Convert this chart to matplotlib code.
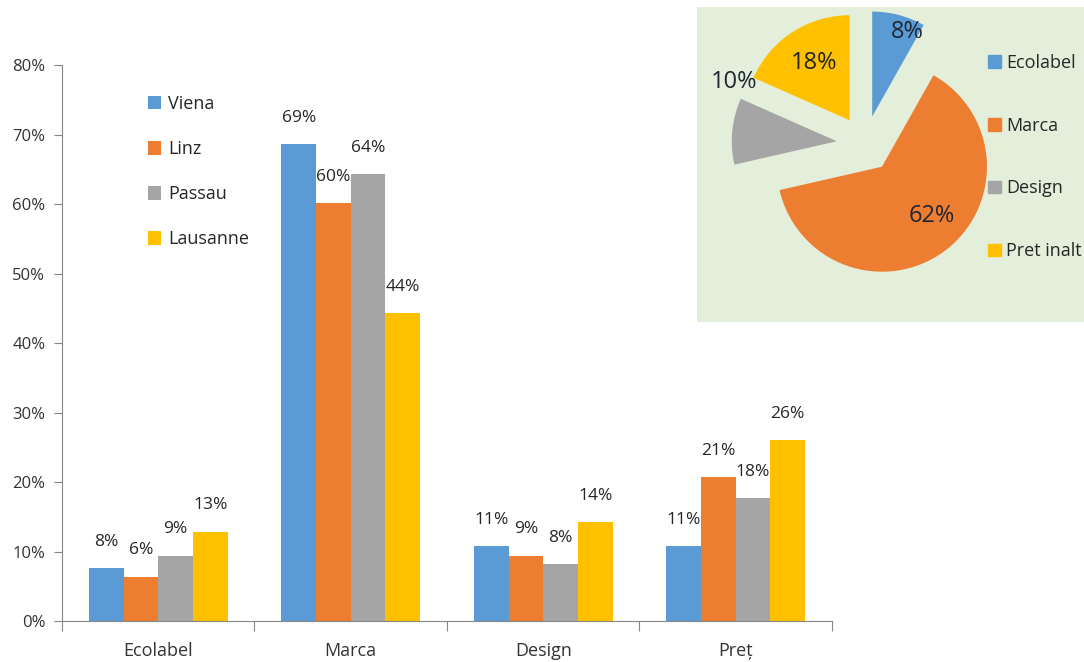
import matplotlib.pyplot as plt
from matplotlib.patches import Patch
import numpy as np

plt.rcParams['font.family'] = ['Open Sans', 'DejaVu Sans']

# bar chart data (percent)
categories = ['Ecolabel', 'Marca', 'Design', 'Preț']
cities = ['Viena', 'Linz', 'Passau', 'Lausanne']
viena = [7.6, 68.6, 10.8, 10.8]
linz = [6.4, 60.1, 9.4, 20.7]
passau = [9.4, 64.3, 8.2, 17.7]
lausanne = [12.85, 44.3, 14.2, 26.0]
yticks = [0, 10, 20, 30, 40, 50, 60, 70, 80]

# pie inset data
pie_labels = ['Ecolabel', 'Marca', 'Design', 'Pret inalt']
pie_values = [8, 62, 10, 18]

colors = ['#5B9BD5', '#ED7D31', '#A5A5A5', '#FFC000']
axis_grey = '#868686'
text_col = '#333333'

fig = plt.figure(figsize=(10.84, 6.62), dpi=100)

# ---- grouped bars ----
ax = fig.add_axes([0.0572, 0.0619, 0.7103, 0.8399])
x = np.arange(len(categories))
w = 0.18
series = [viena, linz, passau, lausanne]
for i, (vals, name) in enumerate(zip(series, cities)):
    pos = x + (i - 1.5) * w
    ax.bar(pos, vals, width=w, color=colors[i], label=name)
    for px, v in zip(pos, vals):
        ax.annotate(f'{v:.0f}%', (px, v), xytext=(0, 19), textcoords='offset points',
                    ha='center', va='center', fontsize=12.5, color='#262626')

ax.set_xlim(-0.5, 3.5)
ax.set_ylim(0, 80)
ax.set_yticks(yticks)
ax.set_yticklabels([f'{t}%' for t in yticks], fontsize=12, color=text_col)
ax.set_xticks(np.arange(-0.5, 4, 1))
ax.set_xticklabels([])
ax.set_xticks(x, minor=True)
ax.set_xticklabels(categories, minor=True, fontsize=13, color=text_col)
ax.tick_params(axis='x', which='minor', length=0, pad=15)
ax.tick_params(axis='x', which='major', length=7, color=axis_grey, direction='out')
ax.tick_params(axis='y', length=6, color=axis_grey, pad=6)
for s in ['top', 'right']:
    ax.spines[s].set_visible(False)
for s in ['left', 'bottom']:
    ax.spines[s].set_color(axis_grey)

ax.legend(loc='upper left', bbox_to_anchor=(0.09, 0.975), frameon=False, fontsize=13,
          labelspacing=1.5, handlelength=0.75, handleheight=0.75, handletextpad=0.4,
          labelcolor='#262626')

# ---- pie inset ----
r_px = 105.0
cx, cy = 865.0, 144.0
left, top, right, bottom = 697.0, 7.0, 1084.0, 322.0
pax = fig.add_axes([left / 1084, (662 - bottom) / 662,
                    (right - left) / 1084, (bottom - top) / 662])
wedges, _ = pax.pie(pie_values, colors=colors, startangle=90, counterclock=False,
                    explode=[0.27] * 4, frame=True)
pax.set_aspect('auto')
pax.set_xlim((left - cx) / r_px, (right - cx) / r_px)
pax.set_ylim((cy - bottom) / r_px, (cy - top) / r_px)
pax.set_facecolor('#E3EFDA')
pax.set_xticks([])
pax.set_yticks([])
for s in pax.spines.values():
    s.set_visible(False)

# value labels placed around each wedge
label_dist = [1.14, 0.93, 1.38, 0.91]
label_shift = [-6, 6, -20, -1]
for wdg, v, d, sh in zip(wedges, pie_values, label_dist, label_shift):
    ang = np.deg2rad((wdg.theta1 + wdg.theta2) / 2 + sh)
    pax.text(d * np.cos(ang), d * np.sin(ang), f'{v}%', ha='center', va='center',
             fontsize=17, color='#1e2633')

handles = [Patch(color=c, label=l) for c, l in zip(colors, pie_labels)]
fig.legend(handles=handles, loc='upper left', bbox_to_anchor=(0.905, 0.93),
           frameon=False, fontsize=13, labelspacing=2.49, handlelength=0.7,
           handleheight=0.7, handletextpad=0.3, labelcolor='#262626', borderaxespad=0)

fig.savefig('out.png', dpi=100)
